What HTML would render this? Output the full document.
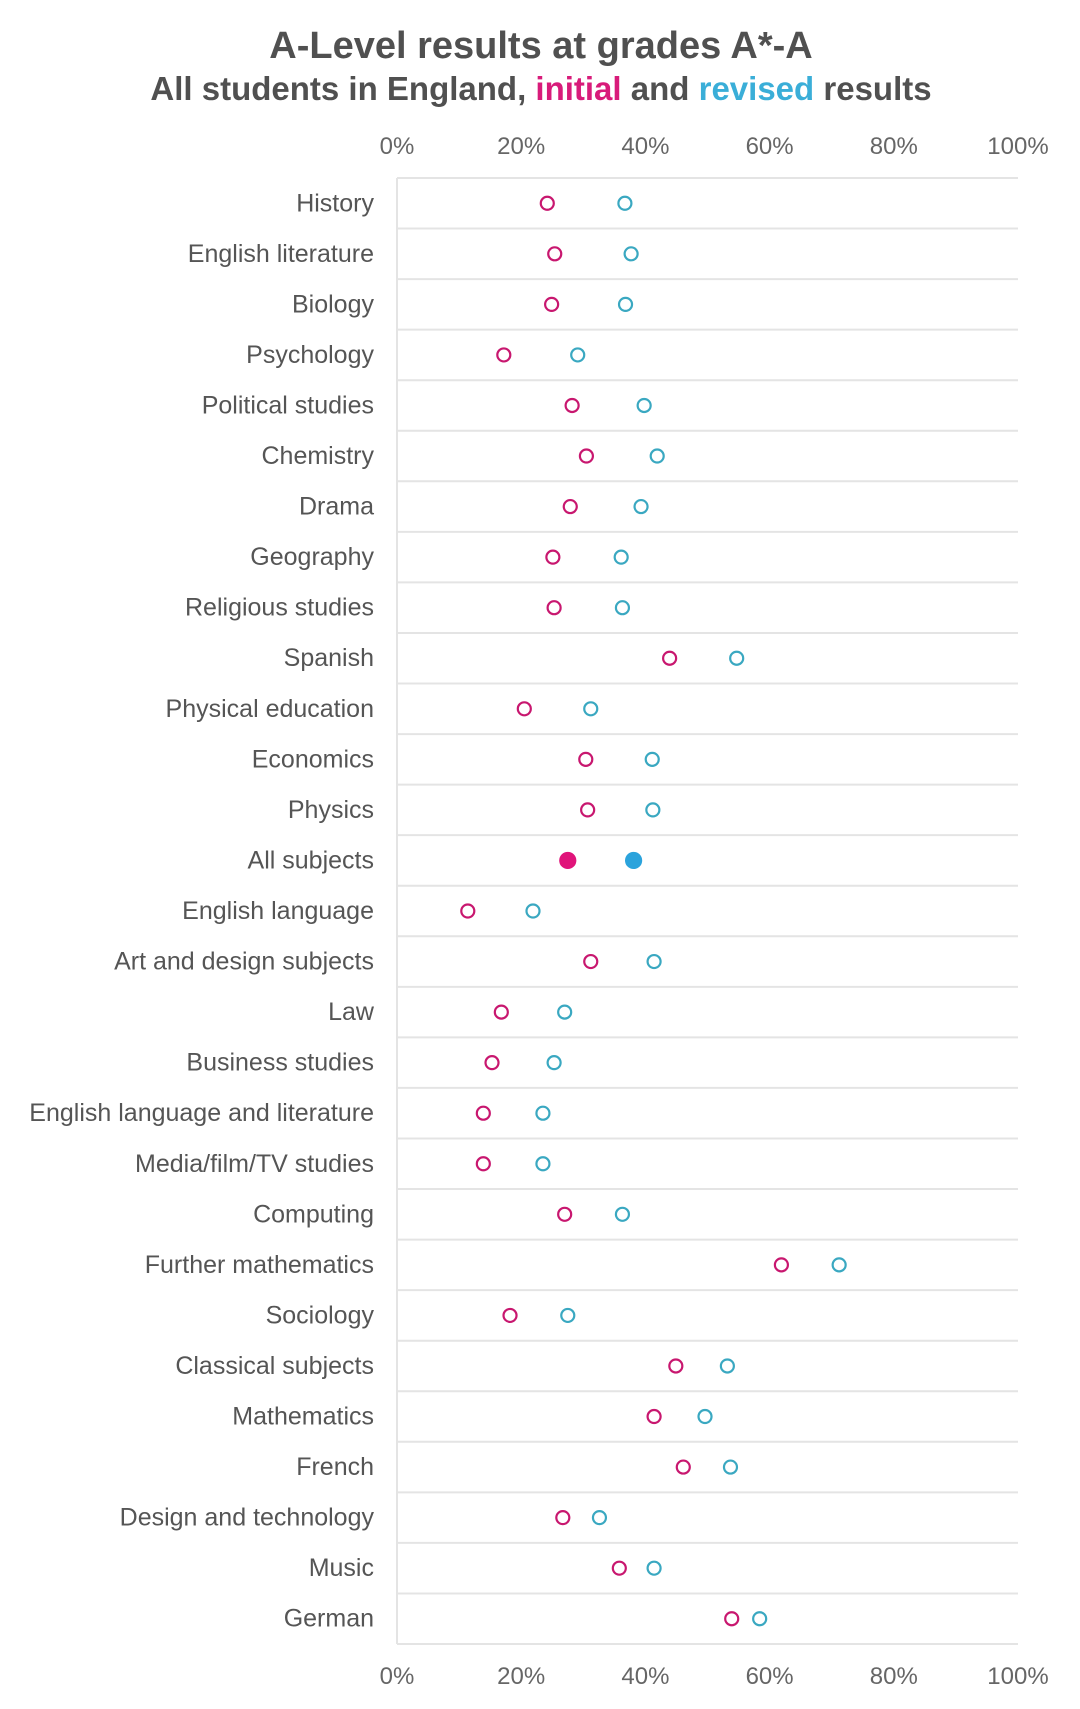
<!DOCTYPE html>
<html><head><meta charset="utf-8"><style>
body{margin:0;background:#fff;}
svg{display:block;font-family:"Liberation Sans",sans-serif;}
</style></head><body>
<svg id="chart" width="1080" height="1709" viewBox="0 0 1080 1709">
<text x="541" y="58" text-anchor="middle" font-size="38" font-weight="bold" fill="#505050">A-Level results at grades A*-A</text>
<text x="541" y="100" text-anchor="middle" font-size="33" font-weight="bold" fill="#505050">All students in England, <tspan fill="#d81b7a">initial</tspan> and <tspan fill="#3aaed8">revised</tspan> results</text>
<g id="grid"></g><g id="marks"></g><g id="labels"></g>
</svg>
<script>
const categories=["History","English literature","Biology","Psychology","Political studies","Chemistry","Drama","Geography","Religious studies","Spanish","Physical education","Economics","Physics","All subjects","English language","Art and design subjects","Law","Business studies","English language and literature","Media/film/TV studies","Computing","Further mathematics","Sociology","Classical subjects","Mathematics","French","Design and technology","Music","German"];
const initialValues=[24.2,25.4,24.9,17.2,28.2,30.5,27.9,25.1,25.3,43.9,20.5,30.4,30.7,27.5,11.4,31.2,16.8,15.3,13.9,13.9,27.0,61.9,18.2,44.9,41.4,46.1,26.7,35.8,53.9];
const revisedValues=[36.7,37.7,36.8,29.1,39.8,41.9,39.3,36.1,36.3,54.7,31.2,41.1,41.2,38.1,21.9,41.4,27.0,25.3,23.5,23.5,36.3,71.2,27.5,53.2,49.6,53.7,32.6,41.4,58.4];
const tickValues=[0,20,40,60,80,100];
const tickLabels=["0%","20%","40%","60%","80%","100%"];
const NS="http://www.w3.org/2000/svg";
const X0=397,X1=1018,Y0=178,Y1=1644;
const rowH=(Y1-Y0)/categories.length;
const xs=v=>X0+(v/100)*(X1-X0);
const ys=i=>Y0+rowH*(i+0.5);
function mk(tag,attrs,parent){const e=document.createElementNS(NS,tag);for(const k in attrs)e.setAttribute(k,attrs[k]);document.getElementById(parent).appendChild(e);return e;}
for(let i=0;i<=categories.length;i++){
  const l=mk("line",{x1:X0,x2:X1,y1:Y0+rowH*i,y2:Y0+rowH*i,stroke:"#e4e4e4","stroke-width":2},"grid");
  
  
}
const ax=mk("line",{x1:X0,x2:X0,y1:Y0,y2:Y1,stroke:"#e4e4e4","stroke-width":2},"grid");


tickValues.forEach((v,j)=>{
  [154,1684].forEach((y,k)=>{
    const t=mk("text",{x:xs(v),y:y,"text-anchor":"middle","font-size":24,fill:"#666"},"labels");
    t.textContent=tickLabels[j];
    
    
  });
});
categories.forEach((c,i)=>{
  const t=mk("text",{x:374,y:ys(i)+8,"text-anchor":"end","font-size":25,fill:"#555"},"labels");
  t.textContent=c;
  
  
  const all=c==="All subjects";
  const a=mk("circle",{cx:xs(initialValues[i]),cy:ys(i),r:all?7.5:6.5,fill:all?"#e0147a":"none",stroke:all?"#e0147a":"#c8176f","stroke-width":2.2},"marks");
  
  
  const b=mk("circle",{cx:xs(revisedValues[i]),cy:ys(i),r:all?7.5:6.5,fill:all?"#2ba3dc":"none",stroke:all?"#2ba3dc":"#3aa8c1","stroke-width":2.2},"marks");
  
  
});
</script>
</body></html>
